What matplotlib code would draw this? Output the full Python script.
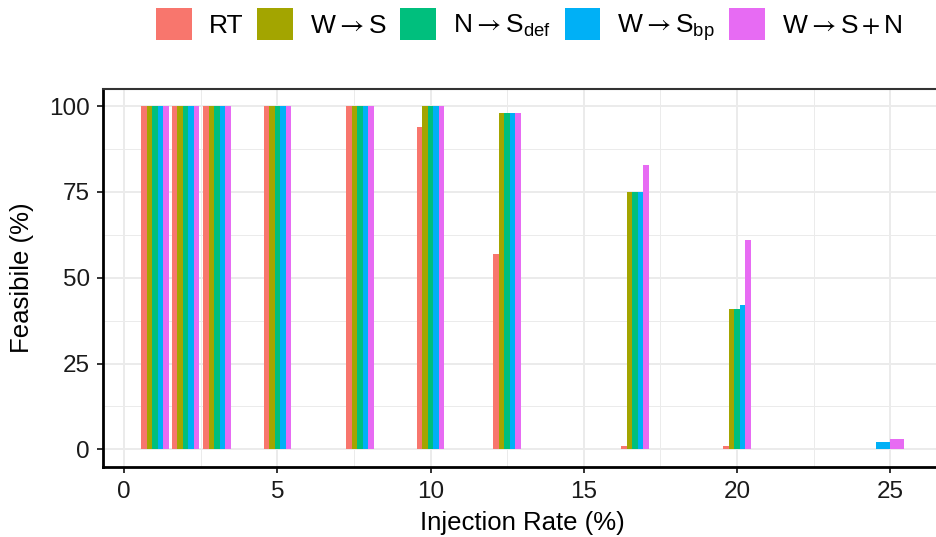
import numpy as np
import matplotlib
matplotlib.use("Agg")
import matplotlib.pyplot as plt
from matplotlib.patches import Patch

plt.rcParams['font.family'] = ['Liberation Sans', 'DejaVu Sans']
plt.rcParams['mathtext.fontset'] = 'custom'
plt.rcParams['mathtext.rm'] = 'Liberation Sans'
plt.rcParams['mathtext.it'] = 'Liberation Sans:italic'
plt.rcParams['mathtext.sf'] = 'STIXGeneral'

# ---- data ----
rates = [1, 2, 3.03, 5, 7.69, 10, 12.5, 16.67, 20, 25]
series_names = ['RT',
                r'$\mathrm{W}\mathsf{\rightarrow}\mathrm{S}$',
                r'$\mathrm{N}\mathsf{\rightarrow}\mathrm{S}_{\mathrm{def}}$',
                r'$\mathrm{W}\mathsf{\rightarrow}\mathrm{S}_{\mathrm{bp}}$',
                r'$\mathrm{W}\mathsf{\rightarrow}\mathrm{S}\,\mathsf{+}\,\mathrm{N}$']
rt     = [100, 100, 100, 100, 100, 94, 57, 1, 1, np.nan]
w_s    = [100, 100, 100, 100, 100, 100, 98, 75, 41, np.nan]
n_sdef = [100, 100, 100, 100, 100, 100, 98, 75, 41, np.nan]
w_sbp  = [100, 100, 100, 100, 100, 100, 98, 75, 42, 2]
w_sn   = [100, 100, 100, 100, 100, 100, 98, 83, 61, 3]
colors = ['#F8766D', '#A3A500', '#00BF7D', '#00B0F6', '#E76BF3']
values = [rt, w_s, n_sdef, w_sbp, w_sn]

W, H = 937, 537
fig = plt.figure(figsize=(W / 100, H / 100), dpi=100)
left, right, top, bottom = 103, 942, 89, 466.5
ax = fig.add_axes([left / W, 1 - bottom / H, (right - left) / W, (bottom - top) / H])

group_width = 0.9
for j, r in enumerate(rates):
    present = [i for i in range(len(values)) if not np.isnan(values[i][j])]
    n = len(present)
    bw = group_width / n
    for k, i in enumerate(present):
        xpos = r - group_width / 2 + bw * (k + 0.5)
        ax.bar(xpos, values[i][j], width=bw, color=colors[i], linewidth=0, zorder=3)

ax.set_xlim(-0.695, 26.695)
ax.set_ylim(-5, 105)
ax.set_xticks([0, 5, 10, 15, 20, 25])
ax.set_xticks([2.5, 7.5, 12.5, 17.5, 22.5], minor=True)
ax.set_yticks([0, 25, 50, 75, 100])
ax.set_yticks([12.5, 37.5, 62.5, 87.5], minor=True)
ax.grid(which='major', color='#EBEBEB', linewidth=1.4, zorder=0)
ax.grid(which='minor', color='#EBEBEB', linewidth=0.7, zorder=0)
ax.set_axisbelow(True)

for s in ['left', 'bottom']:
    ax.spines[s].set_color('black')
    ax.spines[s].set_linewidth(2.0)
ax.spines['top'].set_color('#333333')
ax.spines['top'].set_linewidth(1.5)
ax.spines['right'].set_visible(False)

ax.tick_params(which='major', direction='out', length=4, width=1.4, color='#333333',
               labelsize=17.5, labelcolor='#1A1A1A')
ax.tick_params(axis='x', which='major', pad=6.5)
ax.tick_params(axis='y', which='major', pad=5.5)
ax.tick_params(which='minor', length=0)

ax.set_xlabel('Injection Rate (%)', fontsize=18.5, labelpad=5.5)
ax.set_ylabel('Feasibile (%)', fontsize=18.5, labelpad=11)

handles = [Patch(facecolor=c, edgecolor='none', label=l) for c, l in zip(colors, series_names)]
fig.legend(handles=handles, loc='center', bbox_to_anchor=(529 / W, 1 - 25.5 / H), ncol=5,
           frameon=False, fontsize=19, handlelength=1.35, handleheight=1.5,
           handletextpad=0.65, columnspacing=0.52, borderaxespad=0, borderpad=0)

fig.savefig('out.png', dpi=100)
